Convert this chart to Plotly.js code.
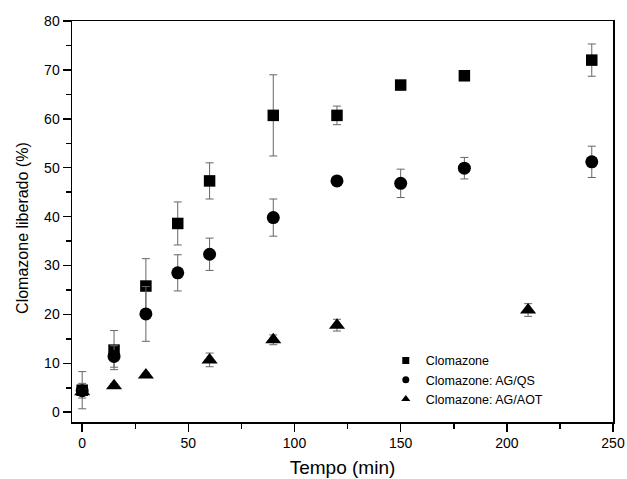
<!DOCTYPE html>
<html>
<head>
<meta charset="utf-8">
<script src="https://cdn.plot.ly/plotly-3.0.1.min.js"></script>
<style>html,body{margin:0;padding:0;background:#fff;}#chart{width:627px;height:479px;}</style>
</head>
<body>
<div id="chart"></div>
<script>
// Data
const timeA = [0, 15, 30, 45, 60, 90, 120, 150, 180, 240];
const clomazone = [4.5, 12.7, 25.8, 38.6, 47.3, 60.7, 60.7, 66.9, 68.8, 72.0];
const clomazoneErr = [3.8, 4.0, 5.6, 4.4, 3.7, 8.3, 1.9, 0.4, 0.5, 3.3];
const qs = [4.4, 11.4, 20.1, 28.5, 32.3, 39.8, 47.3, 46.8, 49.9, 51.2];
const qsErr = [1.5, 2.2, 5.6, 3.7, 3.3, 3.8, 0.4, 2.9, 2.2, 3.2];
const timeB = [0, 15, 30, 60, 90, 120, 210];
const aot = [4.2, 5.4, 7.6, 10.7, 14.8, 17.8, 20.9];
const aotErr = [0.5, 0.4, 0.4, 1.4, 1.0, 1.2, 1.3];
const names = ['Clomazone', 'Clomazone: AG/QS', 'Clomazone: AG/AOT'];
const symbols = ['square', 'circle', 'triangle-up'];
const xTitle = 'Tempo (min)';
const yTitle = 'Clomazone liberado (%)';

const errStyle = (arr) => ({type: 'data', array: arr, visible: true, color: '#666', thickness: 1, width: 4});

const traces = [
  {x: timeA, y: clomazone, error_y: errStyle(clomazoneErr), mode: 'markers', type: 'scatter',
   marker: {symbol: symbols[0], size: 11.5, color: '#000'}, showlegend: false},
  {x: timeA, y: qs, error_y: errStyle(qsErr), mode: 'markers', type: 'scatter',
   marker: {symbol: symbols[1], size: 13, color: '#000'}, showlegend: false},
  {x: timeB, y: aot, error_y: errStyle(aotErr), mode: 'markers', type: 'scatter',
   marker: {symbol: symbols[2], size: 14, color: '#000'}, showlegend: false}
];
names.forEach((n, i) => {
  traces.push({x: [null], y: [null], mode: 'markers', type: 'scatter', name: n,
    marker: {symbol: symbols[i], size: i === 2 ? 8 : 7, color: '#000'}, showlegend: true});
});

const axisCommon = {
  showline: true, linecolor: '#000', linewidth: 1.5, mirror: true,
  ticks: 'outside', ticklen: 8, tickwidth: 1.5, tickcolor: '#000',
  showgrid: false, zeroline: false,
  tickfont: {family: 'Liberation Sans, Arial, sans-serif', size: 14, color: '#000'}
};

const layout = {
  width: 627, height: 479,
  margin: {l: 72, r: 14, t: 21, b: 57},
  paper_bgcolor: '#fff', plot_bgcolor: '#fff',
  font: {family: 'Liberation Sans, Arial, sans-serif', color: '#000'},
  xaxis: Object.assign({}, axisCommon, {
    range: [-4.8, 250], tickvals: [0, 50, 100, 150, 200, 250],
    minor: {ticks: 'outside', ticklen: 5, tickwidth: 1.5, tickcolor: '#000', dtick: 25, tick0: 0},
    title: {text: xTitle, font: {size: 19, color: '#000'}, standoff: 10}
  }),
  yaxis: Object.assign({}, axisCommon, {
    range: [-2, 80], tickvals: [0, 10, 20, 30, 40, 50, 60, 70, 80],
    minor: {ticks: 'outside', ticklen: 5, tickwidth: 1.5, tickcolor: '#000', dtick: 5, tick0: 0}
  }),
  annotations: [{
    text: yTitle, textangle: -90, showarrow: false,
    xref: 'paper', yref: 'paper', x: -0.0906, y: 0.484, xanchor: 'center', yanchor: 'middle',
    font: {size: 16, color: '#000', family: 'Liberation Sans, Arial, sans-serif'}
  }],
  legend: {x: 0.58, y: 0.105, xanchor: 'left', yanchor: 'middle', bgcolor: 'rgba(0,0,0,0)',
    font: {size: 12.5, color: '#000'}, tracegroupgap: 0, itemwidth: 30},
  showlegend: true
};

Plotly.newPlot('chart', traces, layout, {displayModeBar: false, staticPlot: true});
</script>
</body>
</html>
